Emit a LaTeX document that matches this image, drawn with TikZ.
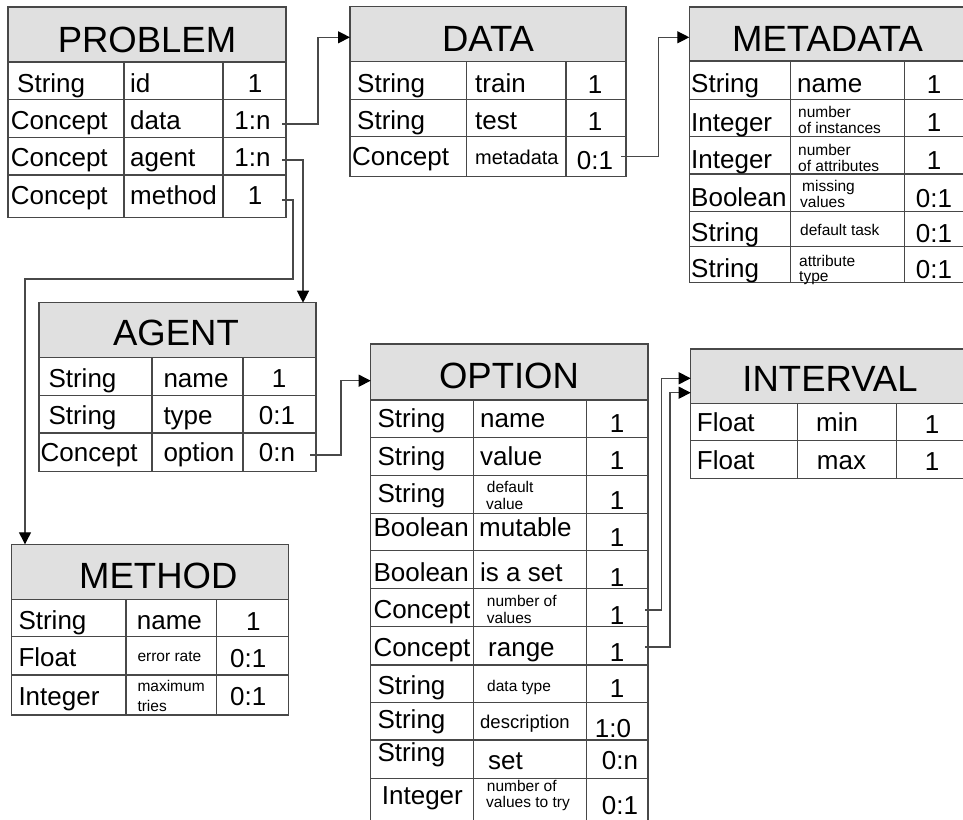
\documentclass[tikz,border=0pt]{standalone}
\usepackage{fontspec}
\setmainfont{Liberation Sans}
\usetikzlibrary{arrows.meta}
\definecolor{hdrgray}{RGB}{224,224,224}
\definecolor{linegray}{RGB}{72,72,72}
\newcommand\fsz[1]{\fontsize{#1}{#1}\selectfont}
\begin{document}
\begin{tikzpicture}[x=1pt,y=-1pt,
  box/.style={draw=linegray, line width=1.2pt, inner sep=0pt, outer sep=0pt, anchor=north west},
  hdr/.style={box, fill=hdrgray},
  rule/.style={draw=linegray, line width=1.2pt},
  ttl/.style={font=\fsz{36.5}, anchor=base, inner sep=0pt},
  lbl/.style={font=\fsz{26}, anchor=base west, inner sep=0pt, yshift=-1pt},
  card/.style={font=\fsz{26}, anchor=base, inner sep=0pt, yshift=-1pt},
  mid/.style={font=\fsz{20}, anchor=base west, inner sep=0pt, yshift=-1pt},
  desc/.style={font=\fsz{18.5}, anchor=base west, inner sep=0pt, yshift=-1pt},
  note/.style={font=\fsz{15.5}, anchor=base west, inner sep=0pt, yshift=-1pt},
  link/.style={draw=linegray, line width=1.2pt},
  arr/.style={link, -{Triangle[length=12pt,width=12pt,color=black]}}]
\useasboundingbox (0,0) rectangle (963,819);
\clip (0,0) rectangle (963,819);

% ---------------- PROBLEM ----------------
\node[box, minimum width=278pt, minimum height=155.3pt] (problem-body) at (8,62) {};
\node[hdr, minimum width=278pt, minimum height=55pt] (problem) at (8,7) {};
\node[ttl] (problem-title) at (147,52) {PROBLEM};
\foreach \y in {99.3,137.3,175} \draw[rule] (8,\y) -- (286,\y);
\foreach \x in {124,223} \draw[rule] (\x,62) -- (\x,217.3);
\node[lbl] (p-t1) at (17,91.7) {String};
\node[lbl] (p-n1) at (130,91.7) {id};
\node[card] (p-c1) at (255,91.7) {1};
\node[lbl] (p-t2) at (10.7,128.5) {Concept};
\node[lbl] (p-n2) at (130,128.5) {data};
\node[card] (p-c2) at (252.5,128.5) {1:n};
\node[lbl] (p-t3) at (10.7,165.5) {Concept};
\node[lbl] (p-n3) at (130,165.5) {agent};
\node[card] (p-c3) at (252.5,165.5) {1:n};
\node[lbl] (p-t4) at (10.7,203.5) {Concept};
\node[lbl] (p-n4) at (130,203.5) {method};
\node[card] (p-c4) at (255,203.5) {1};

% ---------------- DATA ----------------
\node[box, minimum width=276pt, minimum height=115pt] (data-body) at (350,61.7) {};
\node[hdr, minimum width=276pt, minimum height=55pt] (data) at (350,6.7) {};
\node[ttl] (data-title) at (488,51.7) {DATA};
\foreach \y in {99.3,136.7} \draw[rule] (350,\y) -- (626,\y);
\foreach \x in {466.7,566} \draw[rule] (\x,61.7) -- (\x,176.7);
\node[lbl] (d-t1) at (357,91.7) {String};
\node[lbl] (d-n1) at (475,91.7) {train};
\node[card] (d-c1) at (595,92.5) {1};
\node[lbl] (d-t2) at (357,128.5) {String};
\node[lbl] (d-n2) at (475,128.5) {test};
\node[card] (d-c2) at (595,129.5) {1};
\node[lbl] (d-t3) at (352,164) {Concept};
\node[mid] (d-n3) at (475,163.5) {metadata};
\node[card] (d-c3) at (595,168.3) {0:1};

% ---------------- METADATA ----------------
\node[box, minimum width=277pt, minimum height=221.3pt] (metadata-body) at (689.3,61) {};
\node[hdr, minimum width=277pt, minimum height=54pt] (metadata) at (689.3,7) {};
\node[ttl] (metadata-title) at (827.5,51.7) {METADATA};
\foreach \y in {99.3,136.7,174,211.7,246.7} \draw[rule] (689.3,\y) -- (966.3,\y);
\foreach \x in {790.7,904.3} \draw[rule] (\x,61) -- (\x,282.3);
\node[lbl] (m-t1) at (691,91) {String};
\node[lbl] (m-n1) at (797,91) {name};
\node[card] (m-c1) at (934,92.5) {1};
\node[lbl] (m-t2) at (691,130) {Integer};
\node[note] (m-n2a) at (798,116) {number};
\node[note] (m-n2b) at (798,132.5) {of instances};
\node[card] (m-c2) at (934,130.7) {1};
\node[lbl] (m-t3) at (691,167.5) {Integer};
\node[note] (m-n3a) at (798,154) {number};
\node[note] (m-n3b) at (798,170.5) {of attributes};
\node[card] (m-c3) at (934,168) {1};
\node[lbl] (m-t4) at (691,205) {Boolean};
\node[note] (m-n4a) at (802,190) {missing};
\node[note] (m-n4b) at (800,206.5) {values};
\node[card] (m-c4) at (934,206) {0:1};
\node[lbl] (m-t5) at (691,240) {String};
\node[note] (m-n5) at (800,234.5) {default task};
\node[card] (m-c5) at (934,241) {0:1};
\node[lbl] (m-t6) at (691,276.7) {String};
\node[note] (m-n6a) at (799,265) {attribute};
\node[note] (m-n6b) at (799,280.5) {type};
\node[card] (m-c6) at (934,277) {0:1};

% ---------------- AGENT ----------------
\node[box, minimum width=277pt, minimum height=114pt] (agent-body) at (39,357.7) {};
\node[hdr, minimum width=277pt, minimum height=55pt] (agent) at (39,302.7) {};
\node[ttl] (agent-title) at (176,345.5) {AGENT};
\foreach \y in {395.7,433} \draw[rule] (39,\y) -- (316,\y);
\foreach \x in {152,243} \draw[rule] (\x,357.7) -- (\x,471.7);
\node[lbl] (a-t1) at (48.3,386.7) {String};
\node[lbl] (a-n1) at (163.3,386.7) {name};
\node[card] (a-c1) at (279,386.7) {1};
\node[lbl] (a-t2) at (48.3,423.3) {String};
\node[lbl] (a-n2) at (163.3,423.3) {type};
\node[card] (a-c2) at (277,423.3) {0:1};
\node[lbl] (a-t3) at (40.5,460) {Concept};
\node[lbl] (a-n3) at (163.3,460) {option};
\node[card] (a-c3) at (277,460) {0:n};

% ---------------- OPTION ----------------
\node[box, minimum width=277.3pt, minimum height=425pt] (option-body) at (370.7,400) {};
\node[hdr, minimum width=277.3pt, minimum height=56pt] (option) at (370.7,344) {};
\node[ttl] (option-title) at (509,388.3) {OPTION};
\foreach \y in {437.3,475.7,513.3,550.7,588.3,626.7,665,702.7,740,778.3} \draw[rule] (370.7,\y) -- (648,\y);
\foreach \x in {473.3,586.7} \draw[rule] (\x,400) -- (\x,825);
\node[lbl] (o-t1) at (377.3,426.7) {String};
\node[lbl] (o-n1) at (480,426.7) {name};
\node[card] (o-c1) at (617,431.7) {1};
\node[lbl] (o-t2) at (377.3,464.3) {String};
\node[lbl] (o-n2) at (480,464.3) {value};
\node[card] (o-c2) at (617,468.3) {1};
\node[lbl] (o-t3) at (377.3,501.7) {String};
\node[note] (o-n3a) at (486.7,491) {default};
\node[note] (o-n3b) at (486,508.5) {value};
\node[card] (o-c3) at (617,508.3) {1};
\node[lbl] (o-t4) at (373.3,535) {Boolean};
\node[lbl] (o-n4) at (479,535) {mutable};
\node[card] (o-c4) at (617,545) {1};
\node[lbl] (o-t5) at (373.3,580) {Boolean};
\node[lbl] (o-n5) at (480,580) {is a set};
\node[card] (o-c5) at (617,585) {1};
\node[lbl] (o-t6) at (373.3,617) {Concept};
\node[note] (o-n6a) at (486.7,605) {number of};
\node[note] (o-n6b) at (486.7,622.7) {values};
\node[card] (o-c6) at (617,623.3) {1};
\node[lbl] (o-t7) at (373.3,655) {Concept};
\node[lbl] (o-n7) at (488,655) {range};
\node[card] (o-c7) at (617,660) {1};
\node[lbl] (o-t8) at (377.3,693.3) {String};
\node[note] (o-n8) at (487,690) {data type};
\node[card] (o-c8) at (617,696.7) {1};
\node[lbl] (o-t9) at (377.3,727) {String};
\node[desc] (o-n9) at (480,727) {description};
\node[card] (o-c9) at (613,736.7) {1:0};
\node[lbl] (o-t10) at (377.3,760) {String};
\node[lbl] (o-n10) at (488,768) {set};
\node[card] (o-c10) at (620,768.3) {0:n};
\node[lbl] (o-t11) at (381.7,803.3) {Integer};
\node[note] (o-n11a) at (486.7,790) {number of};
\node[note] (o-n11b) at (486,806.7) {values to try};
\node[card] (o-c11) at (620,813.3) {0:1};

% ---------------- INTERVAL ----------------
\node[box, minimum width=280pt, minimum height=75pt] (interval-body) at (690.7,403.3) {};
\node[hdr, minimum width=280pt, minimum height=54.3pt] (interval) at (690.7,349) {};
\node[ttl] (interval-title) at (830,391.7) {INTERVAL};
\draw[rule] (690.7,440.7) -- (970.7,440.7);
\foreach \x in {797.3,896.7} \draw[rule] (\x,403.3) -- (\x,478.3);
\node[lbl] (i-t1) at (696.7,430.7) {Float};
\node[lbl] (i-n1) at (816,430.7) {min};
\node[card] (i-c1) at (932,432) {1};
\node[lbl] (i-t2) at (696.7,468.3) {Float};
\node[lbl] (i-n2) at (816.7,468.3) {max};
\node[card] (i-c2) at (932,469.5) {1};

% ---------------- METHOD ----------------
\node[box, minimum width=276.6pt, minimum height=115.7pt] (method-body) at (11.7,599.3) {};
\node[hdr, minimum width=276.6pt, minimum height=55pt] (method) at (11.7,544.3) {};
\node[ttl] (method-title) at (158.3,588) {METHOD};
\foreach \y in {636.7,675} \draw[rule] (11.7,\y) -- (288.3,\y);
\foreach \x in {126,216.7} \draw[rule] (\x,599.3) -- (\x,715);
\node[lbl] (e-t1) at (18.3,628.3) {String};
\node[lbl] (e-n1) at (136.7,628.3) {name};
\node[card] (e-c1) at (253.3,629.5) {1};
\node[lbl] (e-t2) at (18.3,665) {Float};
\node[note] (e-n2) at (137.3,660) {error rate};
\node[card] (e-c2) at (248.3,666) {0:1};
\node[lbl] (e-t3) at (18.3,704) {Integer};
\node[note] (e-n3a) at (137.3,690.7) {maximum};
\node[note] (e-n3b) at (137.3,710) {tries};
\node[card] (e-c3) at (248.3,704) {0:1};

% ---------------- connector ends ----------------
\coordinate (p-data-out)   at (282,124);
\coordinate (p-agent-out)  at (282,160);
\coordinate (p-method-out) at (282,200);
\coordinate (data-in)      at (350,37.3);
\coordinate (agent-in)     at (303,302.7);
\coordinate (method-in)    at (25,544.3);
\coordinate (d-meta-out)   at (621,156.7);
\coordinate (metadata-in)  at (689.3,37.3);
\coordinate (a-option-out) at (310,455);
\coordinate (option-in)    at (370.7,380.7);
\coordinate (o-count-out)  at (645,610);
\coordinate (o-range-out)  at (645,647);
\coordinate (interval-in1) at (690.7,378.3);
\coordinate (interval-in2) at (690.7,392.7);

% ---------------- connectors ----------------
\draw[arr] (p-data-out) -- ++(36,0) |- (data-in);
\draw[arr] (p-agent-out) -| (agent-in);
\draw[arr] (p-method-out) -- ++(11,0) -- ++(0,79) -| (method-in);
\draw[arr] (d-meta-out) -- ++(37.3,0) |- (metadata-in);
\draw[arr] (a-option-out) -- ++(31,0) |- (option-in);
\draw[arr] (o-count-out) -- ++(16.7,0) |- (interval-in1);
\draw[arr] (o-range-out) -- ++(25,0) |- (interval-in2);
\end{tikzpicture}
\end{document}
